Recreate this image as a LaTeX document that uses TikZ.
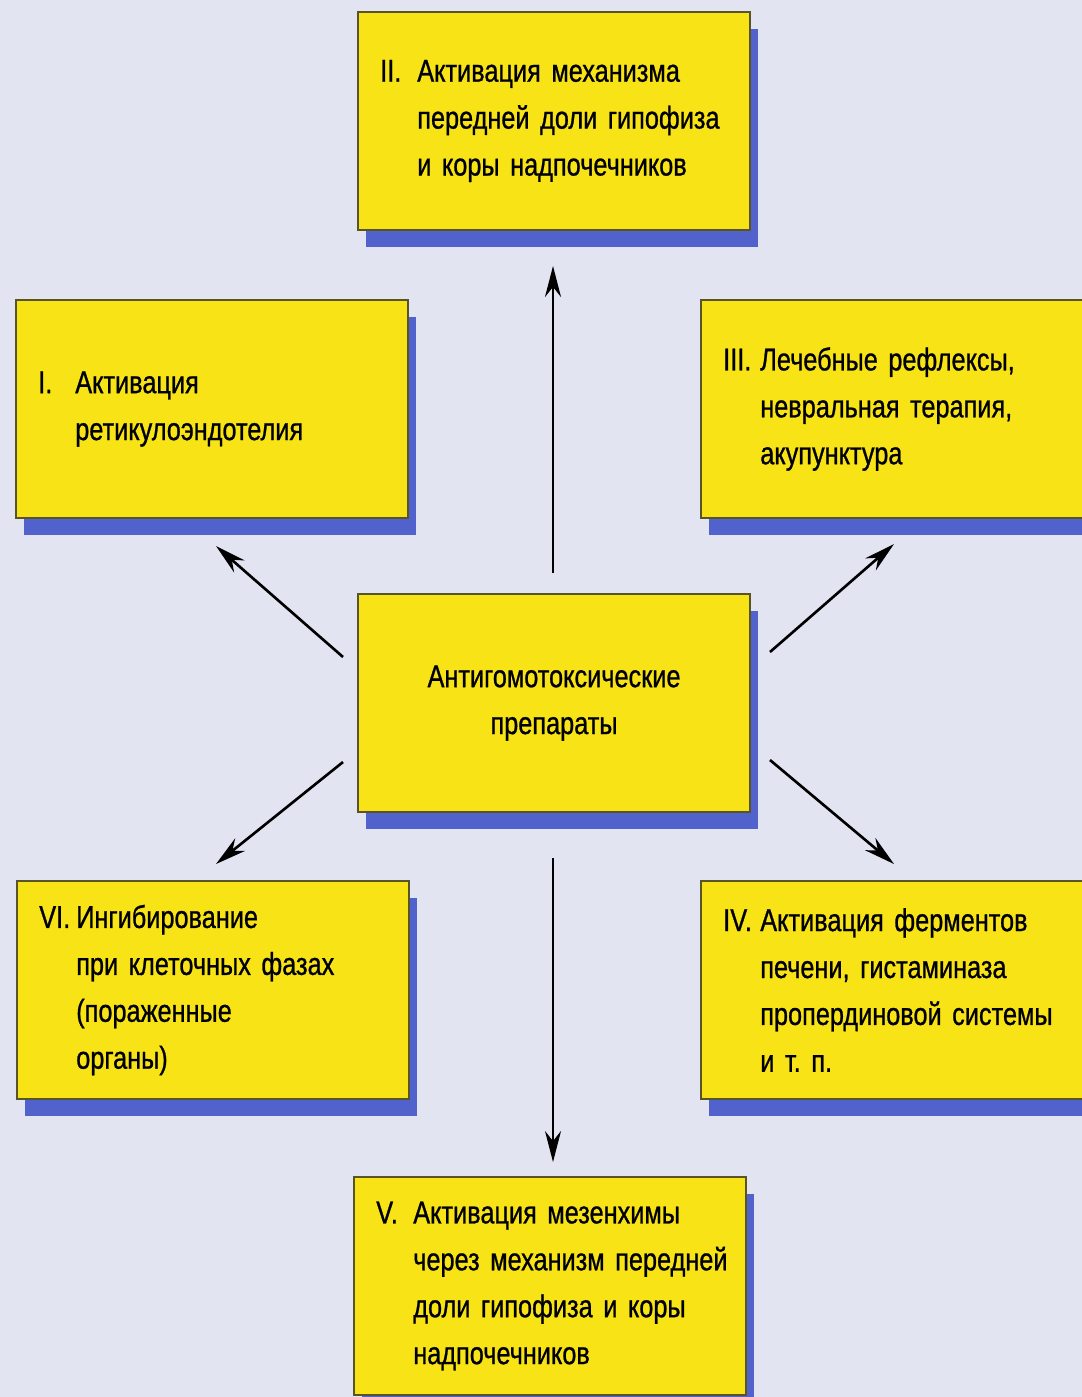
\documentclass[tikz,border=0pt]{standalone}
\usepackage{fontspec}
\setmainfont[FakeStretch=0.8,FakeBold=0.8]{Liberation Sans}
\usepackage{tikz}
\usetikzlibrary{arrows.meta,shadows}

\definecolor{bgblue}{RGB}{226,228,241}
\definecolor{boxyellow}{RGB}{247,227,22}
\definecolor{boxline}{RGB}{88,84,40}
\definecolor{shadowblue}{RGB}{82,98,204}

\newcommand{\rnum}[1]{\makebox[0.74cm][l]{#1}}
\newcommand{\ind}{\hspace*{0.74cm}}
\DeclareRobustCommand{\boxfont}{\fontsize{18}{26.7}\selectfont\spaceskip=3.4pt plus 1pt\relax}

\begin{document}
\frenchspacing
\begin{tikzpicture}[x=0.02cm,y=-0.02cm,
        box/.style={draw=boxline, line width=0.9pt, fill=boxyellow,
            minimum width=7.85cm, minimum height=4.35cm,
            text width=6.95cm, inner xsep=0.45cm, align=left,
            font=\boxfont,
            drop shadow={shadow xshift=0.16cm, shadow yshift=-0.34cm,
                fill=shadowblue, opacity=1}},
        arr/.style={line width=1.5pt, -{Stealth[length=0.62cm,width=0.32cm]}}]
        % --- background ---
        \fill[bgblue] (0,0) rectangle (1082,1397);
        \useasboundingbox (0,0) rectangle (1082,1397);
        % --- boxes ---
        \node[box] (t) at (554,121) {\rnum{II.}Активация механизма\\
            \ind передней доли гипофиза\\ \ind и коры надпочечников};
        \node[box] (l1) at (212,409) {\rnum{I.}Активация\\ \ind ретикулоэндотелия};
        \node[box] (r1) at (897,409) {\rnum{III.}Лечебные рефлексы,\\
            \ind невральная терапия,\\ \ind акупунктура};
        \node[box, align=center] (c) at (554,703) {Антигомотоксические\\ препараты};
        \node[box] (l2) at (213,990) {\rnum{VI.}Ингибирование\\
            \ind при клеточных фазах\\ \ind (пораженные\\ \ind органы)};
        \node[box] (r2) at (897,990) {\rnum{IV.}Активация ферментов\\
            \ind печени, гистаминаза\\ \ind пропердиновой системы\\ \ind и т. п.};
        \node[box] (b) at (550,1286) {\rnum{V.}Активация мезенхимы\\
            \ind\mbox{через механизм передней}\\ \ind доли гипофиза и коры\\ \ind надпочечников};
        % --- arrow ends ---
        \coordinate (up0) at (553,573);   \coordinate (up1) at (553,266);
        \coordinate (dn0) at (553,858);   \coordinate (dn1) at (553,1162);
        \coordinate (ul0) at (343,657);   \coordinate (ul1) at (216,546);
        \coordinate (ur0) at (770,652);   \coordinate (ur1) at (894,544);
        \coordinate (dl0) at (343,762);   \coordinate (dl1) at (216,864);
        \coordinate (dr0) at (770,760);   \coordinate (dr1) at (894,864);
        % --- arrows ---
        \draw[arr] (up0) -- (up1);
        \draw[arr] (dn0) -- (dn1);
        \draw[arr] (ul0) -- (ul1);
        \draw[arr] (ur0) -- (ur1);
        \draw[arr] (dl0) -- (dl1);
        \draw[arr] (dr0) -- (dr1);
    \end{tikzpicture}
\end{document}
